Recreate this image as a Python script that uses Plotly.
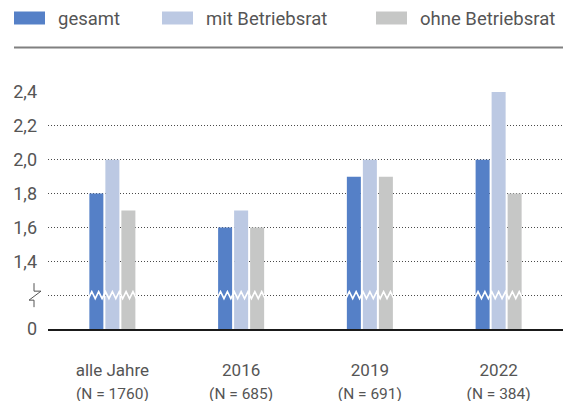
import numpy as np
import plotly.graph_objects as go

categories = ["alle Jahre", "2016", "2019", "2022"]
sample_sizes = ["1760", "685", "691", "384"]
series_names = ["gesamt", "mit Betriebsrat", "ohne Betriebsrat"]
gesamt = [1.8, 1.6, 1.9, 2.0]
mit_betriebsrat = [2.0, 1.7, 2.0, 2.4]
ohne_betriebsrat = [1.7, 1.6, 1.9, 1.8]
series_values = [gesamt, mit_betriebsrat, ohne_betriebsrat]
colors = ["#5580c7", "#bcc9e3", "#c6c7c6"]

# axis: real 0 plotted at 1.0, break at 1.2
y_tickvals = [1.0, 1.2, 1.4, 1.6, 1.8, 2.0, 2.2, 2.4]
y_ticktext = ["0", "", "1,4", "1,6", "1,8", "2,0", "2,2", "2,4"]

PAGE = 8  # default body margin of the html page
W, H = 579 - PAGE, 401 - PAGE
PL, PR, PT, PB = 48, 563, 92, 329  # plot area in screen pixels
L, R, T, B = PL - PAGE, W + PAGE - PR, PT - PAGE, H + PAGE - PB
pw, ph = PR - PL, PB - PT
FONT = "Roboto"
TXT = "#555555"

def px_x(p):
    return (p - PL) / pw

def px_y(p):
    return (PB - p) / ph

xpos = list(range(len(categories)))
fig = go.Figure()
for name, vals, col in zip(series_names, series_values, colors):
    fig.add_trace(go.Bar(x=xpos, y=vals, name=name, marker=dict(color=col, line=dict(width=0)),
                         showlegend=False))

bargap = 0.627
fig.update_layout(
    width=W, height=H, margin=dict(l=L, r=R, t=T, b=B, autoexpand=False),
    paper_bgcolor="white", plot_bgcolor="white",
    barmode="group", bargap=bargap, bargroupgap=0.125,
    font=dict(family=FONT, color=TXT),
    xaxis=dict(tickvals=xpos,
               ticktext=[f"{c}<br><span style='font-size:15.5px'>(N = {n})</span>" for c, n in zip(categories, sample_sizes)],
               range=[-0.5, len(categories) - 0.5], showgrid=False, zeroline=False,
               showline=True, linecolor="#1a1a1a", linewidth=2, ticks="",
               tickfont=dict(size=17, color=TXT), ticklabelstandoff=25),
    yaxis=dict(range=[1.0, 2.4005], tickvals=y_tickvals, ticktext=y_ticktext,
               showgrid=True, gridcolor="#4a4a4a", gridwidth=1, griddash="1px,2px",
               zeroline=False, showline=False, ticks="",
               tickfont=dict(size=18, color=TXT), ticklabelstandoff=10),
)

shapes = []
# zigzag break marks over each bar group
half = (1 - bargap) / 2
nseg = 14
for i in xpos:
    xs = np.linspace(i - half, i + half, nseg + 1)
    ys = [3.5 if k % 2 else -3.5 for k in range(nseg + 1)]
    path = "M " + " L ".join(f"{x:.4f},{y:.2f}" for x, y in zip(xs, ys))
    shapes.append(dict(type="path", path=path, xref="x", yref="y", ysizemode="pixel",
                       yanchor=1.2, line=dict(color="white", width=1.6)))

# axis break symbol
bx = [-14, -14, -7, -19, -14, -14]
by = [12, 4, 4, -5, -5, -12]
shapes.append(dict(type="path", xref="paper", yref="y", xsizemode="pixel", ysizemode="pixel",
                   xanchor=0, yanchor=1.2,
                   path="M " + " L ".join(f"{a},{b}" for a, b in zip(bx, by)),
                   line=dict(color=TXT, width=1)))

# rule under legend
shapes.append(dict(type="line", xref="paper", yref="paper", x0=px_x(14), x1=px_x(563),
                   y0=px_y(47.5), y1=px_y(47.5), line=dict(color="#808080", width=2)))

# legend
leg_x = [14, 162, 376]
annotations = []
for name, col, lx in zip(series_names, colors, leg_x):
    shapes.append(dict(type="rect", xref="paper", yref="paper", x0=px_x(lx), x1=px_x(lx + 31),
                       y0=px_y(24.5), y1=px_y(11.5), fillcolor=col, line=dict(width=0)))
    annotations.append(dict(text=name, xref="paper", yref="paper", x=px_x(lx + 42), y=px_y(19),
                            xanchor="left", yanchor="middle", showarrow=False,
                            font=dict(size=18.5, color=TXT, family=FONT)))

fig.update_layout(shapes=shapes, annotations=annotations)
fig.write_html("out.html")
